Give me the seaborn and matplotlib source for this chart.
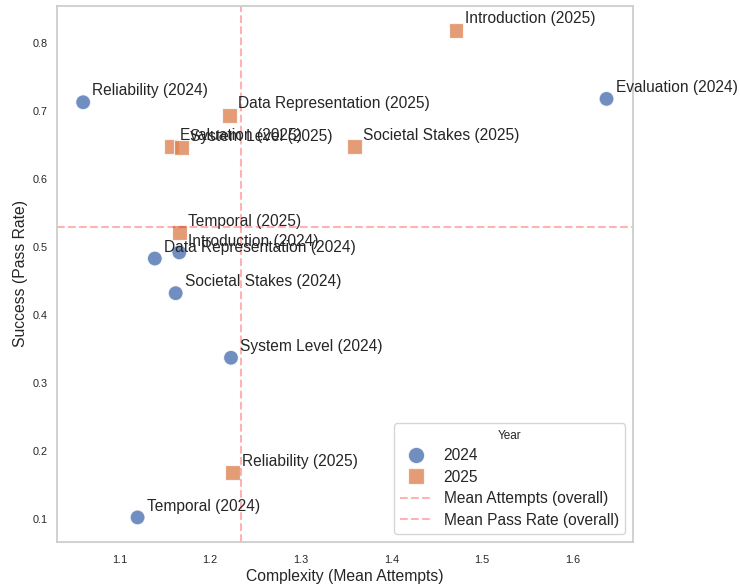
import pandas as pd
import matplotlib
matplotlib.use("Agg")
import matplotlib.pyplot as plt
import seaborn as sns

# Data
topics_2024 = ["Reliability", "Evaluation", "Data Representation", "Introduction",
               "Societal Stakes", "System Level", "Temporal"]
attempts_2024 = [1.060, 1.637, 1.139, 1.166, 1.162, 1.223, 1.120]
pass_2024 = [0.713, 0.718, 0.483, 0.492, 0.432, 0.337, 0.102]

topics_2025 = ["Introduction", "Data Representation", "Evaluation", "System Level",
               "Societal Stakes", "Temporal", "Reliability"]
attempts_2025 = [1.471, 1.221, 1.157, 1.168, 1.359, 1.166, 1.225]
pass_2025 = [0.819, 0.694, 0.648, 0.646, 0.648, 0.521, 0.168]

df = pd.DataFrame({
    "Topic": topics_2024 + topics_2025,
    "Year": ["2024"] * len(topics_2024) + ["2025"] * len(topics_2025),
    "MeanAttempts": attempts_2024 + attempts_2025,
    "PassRate": pass_2024 + pass_2025,
})

sns.set_theme(style="whitegrid", palette="deep")
plt.rcParams["font.family"] = ["Liberation Sans", "DejaVu Sans"]

fig, ax = plt.subplots(figsize=(7.4, 5.87), dpi=100)
sns.scatterplot(data=df, x="MeanAttempts", y="PassRate", hue="Year", style="Year",
                markers={"2024": "o", "2025": "s"}, s=115, alpha=0.8, ax=ax)
ax.grid(False)

ax.axvline(df["MeanAttempts"].mean(), color="red", linestyle="--", alpha=0.3,
           label="Mean Attempts (overall)")
ax.axhline(df["PassRate"].mean(), color="red", linestyle="--", alpha=0.3,
           label="Mean Pass Rate (overall)")

for _, r in df.iterrows():
    ax.text(r["MeanAttempts"] + 0.01, r["PassRate"] + 0.01,
            f"{r['Topic']} ({r['Year']})", fontsize=11.2, color="#262626")

ax.set_xlabel("Complexity (Mean Attempts)", fontsize=11.3, labelpad=3)
ax.set_ylabel("Success (Pass Rate)", fontsize=11.3, labelpad=3)
ax.tick_params(axis="x", labelsize=7.8, pad=3.5)
ax.tick_params(axis="y", labelsize=7.8, pad=1)
ax.legend(title="Year", loc="lower right", fontsize=11.2, title_fontsize=8.5,
          markerscale=1.1, labelspacing=0.42)

plt.subplots_adjust(left=0.077, right=0.855, top=0.99, bottom=0.077)
plt.savefig("out.png", dpi=100)
